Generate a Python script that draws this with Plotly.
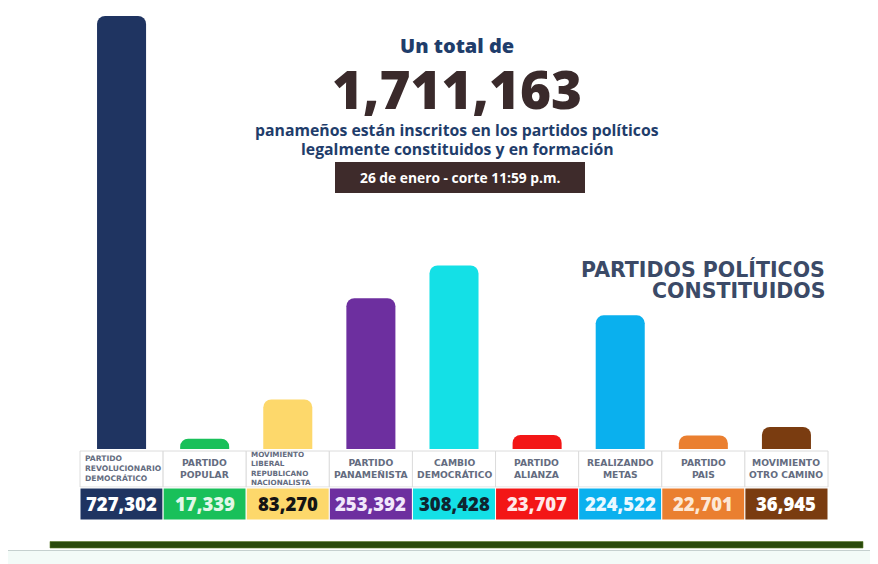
import plotly.graph_objects as go

# ---- data ----
parties = [
    "PARTIDO<br>REVOLUCIONARIO<br>DEMOCRÁTICO",
    "PARTIDO<br>POPULAR",
    "MOVIMIENTO<br>LIBERAL<br>REPUBLICANO<br>NACIONALISTA",
    "PARTIDO<br>PANAMEÑISTA",
    "CAMBIO<br>DEMOCRÁTICO",
    "PARTIDO<br>ALIANZA",
    "REALIZANDO<br>METAS",
    "PARTIDO<br>PAIS",
    "MOVIMIENTO<br>OTRO CAMINO",
]
members = [727302, 17339, 83270, 253392, 308428, 23707, 224522, 22701, 36945]
total_text = "1,711,163"
headline = "Un total de"
sub1 = "panameños están inscritos en los partidos políticos"
sub2 = "legalmente constituidos y en formación"
date_text = "26 de enero - corte 11:59 p.m."
section1 = "PARTIDOS POLÍTICOS"
section2 = "CONSTITUIDOS"

# ---- styles ----
colors = ["#1f3461", "#19c05a", "#fdd86b", "#6d2f9f", "#14e0e6",
          "#f31616", "#0ab0ee", "#ea7f30", "#7a3c10"]
value_colors = ["#ffffff", "#e2f7e8", "#141414", "#f2e8fb", "#0f2530",
                "#ffe8e8", "#eaf8ff", "#fde8d6", "#ffffff"]
label_sizes = [7.6, 9.2, 7.2, 9.2, 9.2, 9.2, 9.2, 9.2, 9.2]
label_left = [True, False, True, False, False, False, False, False, False]

OFF = 8                      # page body margin
W_PX, H_PX = 878 - OFF, 564 - OFF
L, R, T, B = 80, 828, 10, 449   # plot area in page pixels
PW, PH = R - L, B - T


def fx(px):
    return (px - L) / PW


def fy(py):
    return (B - py) / PH


xs = list(range(len(members)))
ymax = members[0] * PH / (B - 16)

fig = go.Figure(go.Bar(
    x=xs, y=members, width=0.59,
    marker=dict(color=colors, line=dict(width=0)),
    hoverinfo="skip",
))

shapes = []
annotations = []
n = len(members)
cw = PW / n
for i in range(n):
    x0 = L + i * cw
    x1 = x0 + cw
    shapes.append(dict(type="rect", xref="paper", yref="paper",
                       x0=fx(x0), x1=fx(x1), y0=fy(487), y1=fy(451),
                       fillcolor="white", line=dict(color="#dcdcdc", width=1)))
    shapes.append(dict(type="rect", xref="paper", yref="paper",
                       x0=fx(x0), x1=fx(x1), y0=fy(520), y1=fy(488),
                       fillcolor=colors[i], line=dict(color="white", width=1)))
    if label_left[i]:
        ax, anc = x0 + 4, "left"
    else:
        ax, anc = x0 + cw / 2, "center"
    annotations.append(dict(
        xref="paper", yref="paper", x=fx(ax), y=fy(468.5),
        text=parties[i], showarrow=False, xanchor=anc, yanchor="middle",
        align="left" if label_left[i] else "center", borderpad=0,
        font=dict(family="DejaVu Sans", size=label_sizes[i], color="#646c80",
                  weight="bold"),
    ))
    annotations.append(dict(
        xref="paper", yref="paper", x=fx(x0 + cw / 2), y=fy(503),
        text=f"{members[i]:,}", showarrow=False, xanchor="center", yanchor="middle",
        font=dict(family="Open Sans", size=18.5, color=value_colors[i], weight=800),
    ))

cx = 457
annotations += [
    dict(xref="paper", yref="paper", x=fx(cx), y=fy(45), text=headline,
         showarrow=False, xanchor="center", yanchor="middle", borderpad=0,
         font=dict(family="Open Sans", size=20, color="#1f3d6b", weight=800)),
    dict(xref="paper", yref="paper", x=fx(cx), y=fy(88), text=total_text,
         showarrow=False, xanchor="center", yanchor="middle", borderpad=0,
         font=dict(family="Open Sans", size=53, color="#3a2a2b", weight=800)),
    dict(xref="paper", yref="paper", x=fx(cx), y=fy(130), text=sub1,
         showarrow=False, xanchor="center", yanchor="middle", borderpad=0,
         font=dict(family="Open Sans", size=15.8, color="#1f3d6b", weight="bold")),
    dict(xref="paper", yref="paper", x=fx(cx), y=fy(149), text=sub2,
         showarrow=False, xanchor="center", yanchor="middle", borderpad=0,
         font=dict(family="Open Sans", size=15.8, color="#1f3d6b", weight="bold")),
    dict(xref="paper", yref="paper", x=fx(460), y=fy(178), text=date_text,
         showarrow=False, xanchor="center", yanchor="middle",
         font=dict(family="Open Sans", size=13.8, color="white", weight="bold")),
    dict(xref="paper", yref="paper", x=fx(826), y=fy(269), text=section1,
         showarrow=False, xanchor="right", yanchor="middle", borderpad=0,
         font=dict(family="DejaVu Sans", size=20.5, color="#3b4a67", weight="bold")),
    dict(xref="paper", yref="paper", x=fx(826), y=fy(291), text=section2,
         showarrow=False, xanchor="right", yanchor="middle", borderpad=0,
         font=dict(family="DejaVu Sans", size=20.5, color="#3b4a67", weight="bold")),
]

shapes += [
    dict(type="rect", xref="paper", yref="paper", x0=fx(335), x1=fx(585),
         y0=fy(193), y1=fy(162), fillcolor="#3e2b2b", line=dict(width=0), layer="below"),
    dict(type="rect", xref="paper", yref="paper", x0=fx(OFF), x1=fx(878),
         y0=fy(564), y1=fy(551), fillcolor="#f3fbf8", line=dict(width=0)),
    dict(type="rect", xref="paper", yref="paper", x0=fx(50), x1=fx(863),
         y0=fy(548), y1=fy(541.5), fillcolor="#2a4a0c",
         line=dict(color="#5a7a2a", width=0.6)),
    dict(type="line", xref="paper", yref="paper", x0=fx(OFF), x1=fx(878),
         y0=fy(550.5), y1=fy(550.5), line=dict(color="#c5d0cf", width=1)),
]

fig.update_layout(
    width=W_PX, height=H_PX,
    margin=dict(l=L - OFF, r=W_PX - (R - OFF), t=T - OFF, b=H_PX - (B - OFF), pad=0),
    paper_bgcolor="white", plot_bgcolor="white",
    barcornerradius=8,
    showlegend=False,
    xaxis=dict(range=[-0.5, n - 0.5], visible=False, fixedrange=True),
    yaxis=dict(range=[0, ymax], visible=False, fixedrange=True),
    shapes=shapes, annotations=annotations,
)

fig.write_html("out.html", config={"displayModeBar": False})
